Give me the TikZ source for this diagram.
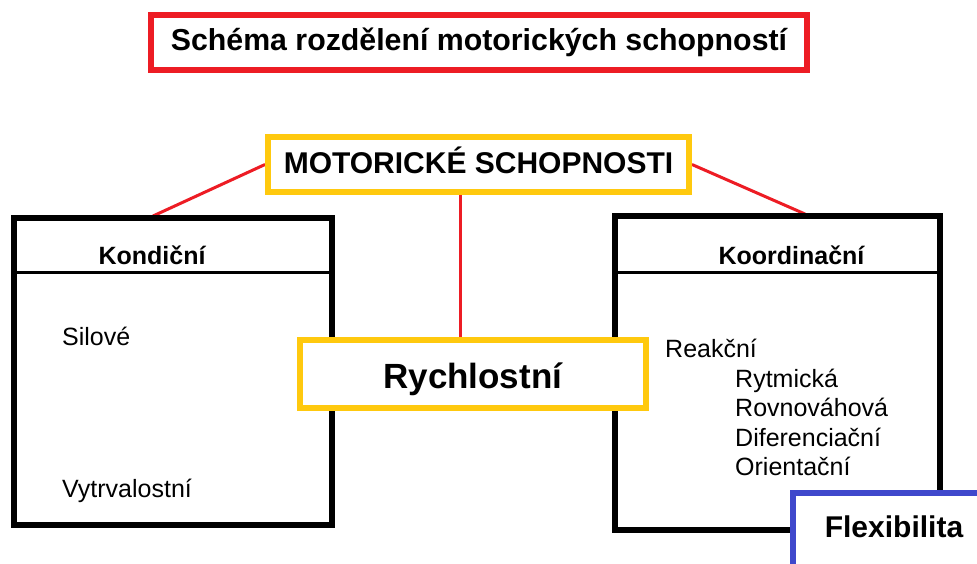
\documentclass[tikz,border=0pt]{standalone}
\usepackage{fontspec}
\setmainfont{Liberation Sans}
\usetikzlibrary{positioning, backgrounds}
\definecolor{paintred}{HTML}{ED1C24}
\definecolor{paintgold}{HTML}{FFC90E}
\definecolor{paintblue}{HTML}{3F48CC}

\begin{document}
\begin{tikzpicture}[
    x=1pt, y=-1pt,
    frame/.style={rectangle, draw, line width=6pt, inner sep=0pt, fill=white},
    titlebox/.style={frame, draw=paintred, minimum width=656.5pt, minimum height=55.5pt,
        text height=22pt, text depth=5pt, font=\fontsize{30.3}{36}\selectfont\bfseries},
    mainbox/.style={frame, draw=paintgold, minimum width=421pt, minimum height=55pt,
        text height=22pt, text depth=5pt, font=\fontsize{30}{36}\selectfont\bfseries},
    speedbox/.style={frame, draw=paintgold, minimum width=345.5pt, minimum height=68.5pt,
        text height=28.5pt, text depth=0pt, font=\fontsize{35}{42}\selectfont\bfseries},
    groupbox/.style={frame, draw=black},
    head/.style={anchor=base, inner sep=0pt, font=\fontsize{25}{30}\selectfont\bfseries},
    item/.style={anchor=base west, inner sep=0pt, font=\fontsize{25}{30}\selectfont},
    divider/.style={line width=3pt},
    link/.style={draw=paintred, line width=3pt}
]
\useasboundingbox (0,0) rectangle (977,563);
\clip (0,0) rectangle (977,563);

% heading
\node[titlebox] (title) at (479,42.25) {Schéma rozdělení motorických schopností};
\node[mainbox] (mot) at (478.5,164.5) {MOTORICKÉ SCHOPNOSTI};

% the two groups
\node[groupbox, minimum width=317.5pt, minimum height=307pt] (kond) at (172.75,371.5) {};
\node[groupbox, minimum width=325pt, minimum height=314pt] (koord) at (777.5,373) {};
\draw[divider] ([yshift=-57pt]kond.north west) -- ([yshift=-57pt]kond.north east);
\draw[divider] ([yshift=-59pt]koord.north west) -- ([yshift=-59pt]koord.north east);
\node[head] (kondhead) at (152,264) {Kondiční};
\node[head] (koordhead) at (791.5,264) {Koordinační};

\node[item] (silove) at (62,345) {Silové};
\node[item] (vytrv) at (62,497) {Vytrvalostní};

\node[item] (reakce) at (665,357) {Reakční};
\node[item] (rytm) at (735,387) {Rytmická};
\node[item] (rovn) at ([yshift=-29.5pt]rytm.base west) {Rovnováhová};
\node[item] (difer) at ([yshift=-29.5pt]rovn.base west) {Diferenciační};
\node[item] (orient) at ([yshift=-29.5pt]difer.base west) {Orientační};

% boxes lying over the groups
\node[speedbox] (rych) at (472.75,373.75) {Rychlostní};
\node[frame, draw=paintblue, minimum width=208pt, minimum height=120pt, anchor=north west] (flex) at (790,489.5) {};
\node[head, font=\fontsize{30}{36}\selectfont\bfseries] (flextext) at (894,537) {Flexibilita};

% red links, kept behind the boxes
\coordinate (kondjoin) at (153,216);
\coordinate (koordjoin) at (805,214);
\coordinate (stem) at (460,0);
\begin{scope}[on background layer]
\fill[white] (0,0) rectangle (977,563);
\draw[link] (mot.west) -- (kondjoin);
\draw[link] (mot.east) -- (koordjoin);
\draw[link] (mot.south -| stem) -- (rych.north -| stem);
\end{scope}
\end{tikzpicture}
\end{document}
